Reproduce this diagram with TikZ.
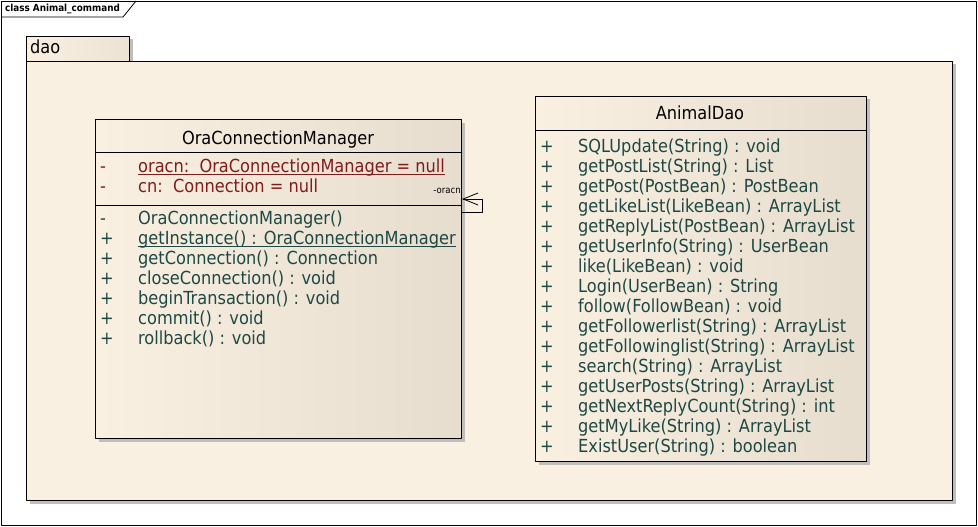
\documentclass[tikz,border=0pt]{standalone}
\usepackage{fontspec}
\setmainfont{DejaVu Sans Condensed}
\usetikzlibrary{arrows.meta,shadows}
\definecolor{attrred}{RGB}{128,28,28}
\definecolor{opgreen}{RGB}{30,72,68}
\definecolor{cream}{RGB}{250,240,226}
\definecolor{creamdark}{RGB}{230,221,206}
\definecolor{shadowgray}{RGB}{192,190,188}
\tikzset{
  boxshadow/.style={drop shadow={shadow xshift=3pt,shadow yshift=-3pt,fill=shadowgray,opacity=1}},
  classbox/.style={draw,line width=1pt,inner sep=0pt,anchor=north west,left color=cream,middle color=cream!75!creamdark,right color=creamdark,boxshadow},
  pkgbox/.style={draw,line width=1pt,inner sep=0pt,anchor=north west,fill=cream,boxshadow},
  txt/.style={inner sep=0pt,anchor=base west,font=\fontsize{18}{20}\selectfont},
  attr/.style={txt,text=attrred},
  oper/.style={txt,text=opgreen},
}
\begin{document}
\begin{tikzpicture}[x=1pt,y=-1pt,line join=round]
  \useasboundingbox (0,0) rectangle (978,527);
  % diagram frame
  \draw[line width=0.8pt] (1,1) rectangle (976,525);
  \draw[line width=0.8pt] (1,17) -- (123,17) -- (136,1);
  \node[inner sep=0pt,anchor=base west,font=\bfseries\fontsize{9.8}{10}\selectfont] (title) at (5,12) {class Animal\_command};
  % package dao
  \node[pkgbox,left color=cream,right color=creamdark!70!cream,minimum width=103pt,minimum height=25pt] (daotab) at (26,36) {};
  \node[pkgbox,minimum width=926pt,minimum height=439pt] (dao) at (26,61) {};
  \node[txt] (daoname) at (30,54) {dao};
  % class OraConnectionManager
  \node[classbox,minimum width=366pt,minimum height=319pt] (ora) at (95,119) {};
  \draw[line width=1pt] ([yshift=-33pt]ora.north west) -- ([yshift=-33pt]ora.north east);
  \draw[line width=1pt] ([yshift=-86pt]ora.north west) -- ([yshift=-86pt]ora.north east);
  \node[txt,anchor=base] (oraname) at (278,144) {OraConnectionManager};
  \node[attr] (ora-s1) at (100,172) {-};
  \node[attr] (ora-a1) at (138,172) {oracn:\ \ OraConnectionManager = null};
  \draw[attrred,line width=0.8pt] ([yshift=-2pt]ora-a1.base west) -- ([yshift=-2pt]ora-a1.base east);
  \node[attr] (ora-s2) at (100,192) {-};
  \node[attr] (ora-a2) at (138,192) {cn:\ \ Connection = null};
  \foreach \s/\t [count=\i] in {-/OraConnectionManager(), +/getInstance() : OraConnectionManager,
      +/getConnection() : Connection, +/closeConnection() : void, +/beginTransaction() : void,
      +/commit() : void, +/rollback() : void}{
    \node[oper] (ora-v\i) at (100,204+20*\i) {\s};
    \node[oper] (ora-o\i) at (138,204+20*\i) {\t};
  }
  \draw[opgreen,line width=0.8pt] ([yshift=-2pt]ora-o2.base west) -- ([yshift=-2pt]ora-o2.base east);
  % self association
  \coordinate (selfout) at ([yshift=-93pt]ora.north east);
  \coordinate (selfin) at ([yshift=-80pt]ora.north east);
  \draw[line width=0.8pt,-{Straight Barb[length=15pt,width=12pt]}] (selfout) -- ++(20,0) |- (selfin);
  \node[inner sep=0pt,anchor=base east,font=\fontsize{9.5}{10}\selectfont] (selflabel) at (461,193) {-oracn};
  % class AnimalDao
  \node[classbox,minimum width=331pt,minimum height=365pt] (animaldao) at (535,96) {};
  \draw[line width=1pt] ([yshift=-34pt]animaldao.north west) -- ([yshift=-34pt]animaldao.north east);
  \node[txt,anchor=base] (daoclass) at (700,120) {AnimalDao};
  \foreach \t [count=\i] in {SQLUpdate(String) : void, getPostList(String) : List,
      getPost(PostBean) : PostBean, getLikeList(LikeBean) : ArrayList,
      getReplyList(PostBean) : ArrayList, getUserInfo(String) : UserBean,
      like(LikeBean) : void, Login(UserBean) : String, follow(FollowBean) : void,
      getFollowerlist(String) : ArrayList, getFollowinglist(String) : ArrayList,
      search(String) : ArrayList, getUserPosts(String) : ArrayList,
      getNextReplyCount(String) : int, getMyLike(String) : ArrayList,
      ExistUser(String) : boolean}{
    \node[oper] (dao-v\i) at (540,132+20*\i) {+};
    \node[oper] (dao-o\i) at (578,132+20*\i) {\t};
  }
\end{tikzpicture}
\end{document}
